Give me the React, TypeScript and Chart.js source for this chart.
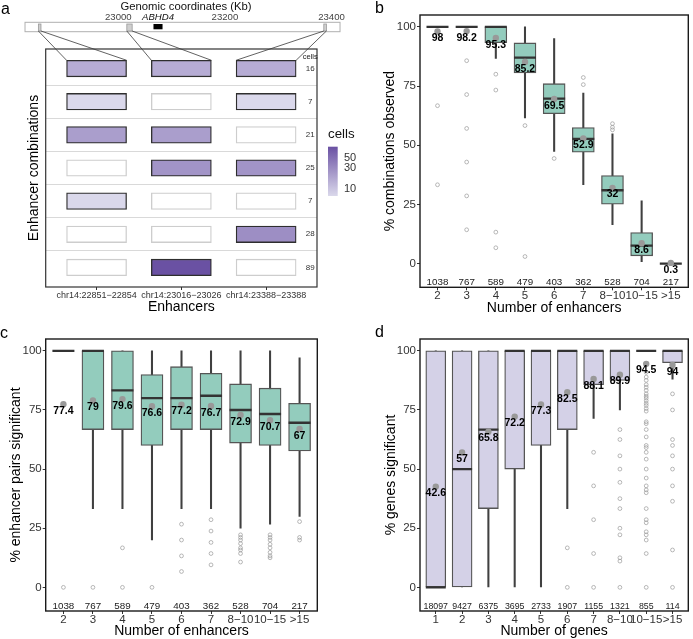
import React, { useEffect, useRef } from "react";
import { Chart, registerables } from "chart.js";

Chart.register(...registerables);

const FONT = "'Liberation Sans', Arial, Helvetica, sans-serif";
Chart.defaults.font.family = FONT;

// ---------------- Panel a data ----------------
const enhancerLabels = ["chr14:22851\u221222854", "chr14:23016\u221223026", "chr14:23388\u221223388"];
const enhancerStarts = [22851, 23016, 23388];
const enhancerEnds = [22854, 23026, 23388];
const geneName = "ABHD4";
const geneStart = 23066;
const geneEnd = 23083;
const genomicTicks = [23000, 23200, 23400];
const trackStart = 22825;
const trackEnd = 23416;
const genomicView = [22863.8, 23372.8];
const comboPresence = [
  [1, 1, 1],
  [1, 0, 1],
  [1, 1, 0],
  [0, 1, 1],
  [1, 0, 0],
  [0, 0, 1],
  [0, 1, 0],
];
const comboCells = [16, 7, 21, 25, 7, 28, 89];
const cellLegendTicks = [10, 30, 50];

// ---------------- Panel b data ----------------
const enhancerCats = ["2", "3", "4", "5", "6", "7", "8\u221210", "10\u221215", ">15"];
const bN = [1038, 767, 589, 479, 403, 362, 528, 704, 217];
const bMean = [98, 98.2, 95.3, 85.2, 69.5, 52.9, 32, 8.6, 0.3];
const bMedian = [100, 100, 100, 87, 69.7, 52.7, 31, 7.6, 0];
const bQ1 = [100, 100, 93.3, 80.5, 63.3, 47.1, 25.1, 3.3, 0];
const bQ3 = [100, 100, 100, 93.2, 76, 57.5, 37.2, 13.1, 0];
const bWhiskerLow = [100, 100, 86.7, 61.5, 47.4, 33.3, 16.4, 0.8, 0];
const bWhiskerHigh = [100, 100, 100, 100, 95, 72, 54.8, 26.5, 0];
const bOutliers = [
  [66.7, 33.3],
  [85.7, 71.4, 57.1, 42.9, 28.6, 14.3],
  [80, 73.3, 13.3, 6.7],
  [58.3, 3],
  [44.4],
  [78.6, 75.6],
  [59.1, 57.6, 56.5],
  [],
  [],
];

// ---------------- Panel c data ----------------
const cN = [1038, 767, 589, 479, 403, 362, 528, 704, 217];
const cMean = [77.4, 79, 79.6, 76.6, 77.2, 76.7, 72.9, 70.7, 67];
const cMedian = [100, 100, 83.3, 80, 80, 81, 75, 73.3, 69.6];
const cQ1 = [100, 66.7, 66.7, 60, 66.7, 66.7, 61, 60, 57.7];
const cQ3 = [100, 100, 100, 90, 93.3, 90.5, 86, 84.2, 77.8];
const cWhiskerLow = [100, 33.3, 33.3, 20, 33.3, 33.3, 25, 26.7, 30];
const cWhiskerHigh = [100, 100, 100, 100, 100, 100, 100, 100, 97];
const cOutliers = [
  [0],
  [0],
  [16.7, 0],
  [0],
  [26.7, 20, 13.3, 6.7],
  [28.6, 23.8, 19, 14.3, 9.5],
  [22.2, 21.1, 20, 18.5, 16.7, 15.8, 14.3, 10.7],
  [22.2, 21.1, 20, 18.2, 16.7, 14.8, 13.3, 12.5],
  [27.8, 21.1, 20],
];

// ---------------- Panel d data ----------------
const geneCats = ["1", "2", "3", "4", "5", "6", "7", "8\u221210", "10\u221215", ">15"];
const dN = [18097, 9427, 6375, 3695, 2733, 1907, 1155, 1321, 855, 114];
const dMean = [42.6, 57, 65.8, 72.2, 77.3, 82.5, 88.1, 89.9, 94.5, 94];
const dMedian = [0, 50, 66.7, 100, 100, 100, 100, 100, 100, 100];
const dQ1 = [0, 0, 33.3, 50, 60, 66.7, 85.7, 87.5, 100, 95];
const dQ3 = [100, 100, 100, 100, 100, 100, 100, 100, 100, 100];
const dWhiskerLow = [0, 0, 0, 0, 0, 33.3, 71.4, 75, 100, 88];
const dWhiskerHigh = [100, 100, 100, 100, 100, 100, 100, 100, 100, 100];
const dOutliers = [
  [],
  [],
  [],
  [],
  [],
  [16.7, 0],
  [57.1, 42.9, 28.6, 14.3, 0],
  [66.7, 62.5, 55.6, 50, 44.4, 37.5, 33.3, 25, 22.2, 12.5, 11.1, 0],
  [90.9, 88.9, 87.5, 85.7, 84.6, 83.3, 81.8, 80.8, 80, 78.9, 77.8, 76.9, 75.6, 74.5,
   70, 69.2, 66.7, 63.6, 60, 59.1, 57.1, 54.2, 50, 46.2, 42.9, 41.2, 40, 33.3, 28.6, 27.3,
   23.5, 22.2, 20, 14.3, 0],
  [81.8, 75, 62.5, 60, 55.6, 50, 42.9, 36.4, 15.8, 0],
];

// ---------------- helpers ----------------
const lowRGB = [218, 216, 235];
const highRGB = [106, 81, 163];
const minCells = Math.min(...comboCells);
const maxCells = Math.max(...comboCells);
function cellT(c: number) {
  return (Math.log(c) - Math.log(minCells)) / (Math.log(maxCells) - Math.log(minCells));
}
function cellColor(c: number) {
  const t = cellT(c);
  const m = lowRGB.map((l, i) => Math.round(l + (highRGB[i] - l) * t));
  return `rgb(${m[0]},${m[1]},${m[2]})`;
}

type Area = { left: number; right: number; top: number; bottom: number };

function drawText(ctx: CanvasRenderingContext2D, text: string, x: number, y: number, font: string, color: string, align: CanvasTextAlign = "center", baseline: CanvasTextBaseline = "middle") {
  ctx.save();
  ctx.font = font;
  ctx.fillStyle = color;
  ctx.textAlign = align;
  ctx.textBaseline = baseline;
  ctx.fillText(text, x, y);
  ctx.restore();
}

// ---------------- Panel a config ----------------
function panelAConfig(W: number, H: number): any {
  const area: Area = { left: 45.7, right: 317, top: 49, bottom: 287 };
  const datasets = comboPresence.map((row, r) => ({
    type: "bar",
    data: row.map((_, e) => ({ x: e, y: [r - 0.25, r + 0.25] })),
    backgroundColor: row.map((p) => (p ? cellColor(comboCells[r]) : "#ffffff")),
    borderColor: row.map((p) => (p ? "#2e2e2e" : "#cdcdcd")),
    borderWidth: 1.3,
    borderSkipped: false,
    barThickness: 60,
    grouped: false,
    xAxisID: "x",
    yAxisID: "y",
  }));

  const decor = {
    id: "panelADecor",
    afterDraw(chart: any) {
      const ctx = chart.ctx as CanvasRenderingContext2D;
      const ca = chart.chartArea;
      const xs = chart.scales.x;
      const ys = chart.scales.y;
      const g = chart.scales.g;
      ctx.save();
      // frame
      ctx.strokeStyle = "#333";
      ctx.lineWidth = 1.2;
      ctx.strokeRect(ca.left, ca.top, ca.right - ca.left, ca.bottom - ca.top);

      // genomic track
      const tTop = 22.3, tBot = 31.7;
      const x0 = g.getPixelForValue(trackStart);
      const x1 = g.getPixelForValue(trackEnd);
      ctx.fillStyle = "#fff";
      ctx.fillRect(x0, tTop, x1 - x0, tBot - tTop);
      ctx.strokeStyle = "#b0b0b0";
      ctx.lineWidth = 1;
      ctx.strokeRect(x0, tTop, x1 - x0, tBot - tTop);
      drawText(ctx, "Genomic coordinates (Kb)", 186, 6.5, `11.3px ${FONT}`, "#111");
      genomicTicks.forEach((t) => {
        drawText(ctx, String(t), g.getPixelForValue(t), 17, `9.6px ${FONT}`, "#444");
      });
      // gene
      const gx0 = g.getPixelForValue(geneStart);
      const gx1 = g.getPixelForValue(geneEnd);
      ctx.fillStyle = "#000";
      ctx.fillRect(gx0, 24, gx1 - gx0, 5.3);
      drawText(ctx, geneName, (gx0 + gx1) / 2, 17, `italic 9.6px ${FONT}`, "#111");

      // enhancers + connectors
      const tileTop = ys.getPixelForValue(-0.25);
      enhancerStarts.forEach((s, e) => {
        let ex0 = g.getPixelForValue(s);
        let ex1 = g.getPixelForValue(enhancerEnds[e]);
        if (ex1 - ex0 < 2.6) {
          const c = (ex0 + ex1) / 2;
          ex0 = c - 1.3;
          ex1 = c + 1.3;
        }
        ctx.fillStyle = "#cfcfcf";
        ctx.fillRect(ex0, 24, ex1 - ex0, 7);
        ctx.strokeStyle = "#999";
        ctx.lineWidth = 0.8;
        ctx.strokeRect(ex0, 24, ex1 - ex0, 7);
        const cx = xs.getPixelForValue(e);
        ctx.strokeStyle = "#3a3a3a";
        ctx.lineWidth = 0.8;
        ctx.beginPath();
        ctx.moveTo(ex0, 31);
        ctx.lineTo(cx - 30, tileTop);
        ctx.moveTo(ex1, 31);
        ctx.lineTo(cx + 30, tileTop);
        ctx.stroke();
      });

      // cell counts
      const cntX = xs.getPixelForValue(2.52);
      drawText(ctx, "cells", cntX, ys.getPixelForValue(-0.34), `7.5px ${FONT}`, "#222");
      comboCells.forEach((c, r) => {
        drawText(ctx, String(c), cntX, ys.getPixelForValue(r), `8px ${FONT}`, "#333");
      });

      // colour legend
      const lx = 328, lw = 9.7, lTop = 146.7, lBot = 196;
      drawText(ctx, "cells", lx, 134, `13.3px ${FONT}`, "#111", "left");
      const grad = ctx.createLinearGradient(0, lBot, 0, lTop);
      grad.addColorStop(0, cellColor(minCells));
      grad.addColorStop(1, cellColor(maxCells));
      ctx.fillStyle = grad;
      ctx.fillRect(lx, lTop, lw, lBot - lTop);
      cellLegendTicks.forEach((v) => {
        const y = lBot - cellT(v) * (lBot - lTop);
        drawText(ctx, String(v), lx + 16, y, `11px ${FONT}`, "#333", "left");
      });

      // panel letter
      drawText(ctx, "a", 1, 10, `16px ${FONT}`, "#000", "left");
      ctx.restore();
    },
  };

  return {
    type: "bar",
    data: { datasets },
    options: {
      responsive: false,
      animation: false,
      events: [],
      devicePixelRatio: 1,
      layout: { padding: { top: area.top, right: W - area.right, left: 0, bottom: 0 } },
      plugins: { legend: { display: false }, tooltip: { enabled: false } },
      scales: {
        x: {
          type: "linear",
          min: -0.6,
          max: 2.6,
          offset: false,
          bounds: "data",
          afterBuildTicks: (s: any) => {
            s.ticks = enhancerLabels.map((_, i) => ({ value: i }));
          },
          afterFit: (s: any) => {
            s.height = H - area.bottom;
          },
          ticks: {
            callback: (v: any) => enhancerLabels[Math.round(v)],
            font: { size: 9, lineHeight: 1 },
            color: "#333",
            padding: 1,
            autoSkip: false,
            maxRotation: 0,
          },
          grid: { display: true, drawOnChartArea: false, drawTicks: true, tickLength: 3, color: "#333", offset: false },
          border: { display: false },
          title: { display: true, text: "Enhancers", font: { size: 14 }, color: "#000", padding: { top: 0, bottom: 4.9 } },
        },
        y: {
          type: "linear",
          min: -0.59,
          max: 6.59,
          reverse: true,
          bounds: "data",
          afterBuildTicks: (s: any) => {
            s.ticks = [0.5, 1.5, 2.5, 3.5, 4.5, 5.5].map((v) => ({ value: v }));
          },
          afterFit: (s: any) => {
            s.width = area.left;
          },
          ticks: { display: false },
          grid: { color: "#d9d9d9", lineWidth: 1, drawTicks: false },
          border: { display: false },
          title: { display: true, text: "Enhancer combinations", font: { size: 14 }, color: "#000", padding: { top: 25.6, bottom: 0 } },
        },
        g: {
          type: "linear",
          axis: "x",
          position: "top",
          display: false,
          offset: false,
          bounds: "data",
          grace: 0,
          min: genomicView[0],
          max: genomicView[1],
          afterBuildTicks: (s: any) => {
            s.ticks = genomicTicks.map((v) => ({ value: v }));
          },
        },
      },
    },
    plugins: [decor],
  };
}

// ---------------- box plot config ----------------
type BoxSpec = {
  cats: string[];
  n: number[];
  mean: number[];
  median: number[];
  q1: number[];
  q3: number[];
  wLo: number[];
  wHi: number[];
  outliers: number[][];
  fill: string;
  boxWidth: number;
  nFont: number;
  xTitle: string;
  yTitle: string;
  letter: string;
  letterPos: [number, number];
  area: Area;
  W: number;
  H: number;
  yTitlePad: number;
  xTitlePad: number;
};

function boxConfig(sp: BoxSpec): any {
  const idx = sp.cats.map((_, i) => i);
  const outlierPts: { x: number; y: number }[] = [];
  sp.outliers.forEach((arr, i) => arr.forEach((v) => outlierPts.push({ x: i, y: v })));

  const decor = {
    id: "boxDecor",
    afterDatasetDraw(chart: any, args: any) {
      if (args.index !== 1) return;
      const ctx = chart.ctx as CanvasRenderingContext2D;
      const xs = chart.scales.x;
      const ys = chart.scales.y;
      ctx.save();
      ctx.strokeStyle = "#333";
      ctx.lineWidth = 2.4;
      ctx.beginPath();
      sp.median.forEach((m, i) => {
        const cx = xs.getPixelForValue(i);
        const y = ys.getPixelForValue(m);
        ctx.moveTo(cx - sp.boxWidth / 2, y);
        ctx.lineTo(cx + sp.boxWidth / 2, y);
      });
      ctx.stroke();
      ctx.restore();
    },
    afterDatasetsDraw(chart: any) {
      const ctx = chart.ctx as CanvasRenderingContext2D;
      const xs = chart.scales.x;
      const ys = chart.scales.y;
      sp.mean.forEach((m, i) => {
        drawText(ctx, String(m), xs.getPixelForValue(i), ys.getPixelForValue(m) + 1.5, `bold 10.5px ${FONT}`, "#000", "center", "top");
      });
      sp.n.forEach((c, i) => {
        drawText(ctx, String(c), xs.getPixelForValue(i), ys.getPixelForValue(-8), `${sp.nFont}px ${FONT}`, "#1a1a1a");
      });
    },
    afterDraw(chart: any) {
      const ctx = chart.ctx as CanvasRenderingContext2D;
      const ca = chart.chartArea;
      ctx.save();
      ctx.strokeStyle = "#1a1a1a";
      ctx.lineWidth = 1.4;
      ctx.strokeRect(ca.left, ca.top, ca.right - ca.left, ca.bottom - ca.top);
      ctx.restore();
      drawText(ctx, sp.letter, sp.letterPos[0], sp.letterPos[1], `16px ${FONT}`, "#000", "left");
    },
  };

  return {
    type: "bar",
    data: {
      datasets: [
        {
          type: "bar",
          order: 5,
          data: idx.filter((i) => sp.wHi[i] > sp.wLo[i]).map((i) => ({ x: i, y: [sp.wLo[i], sp.wHi[i]] })),
          backgroundColor: "#404040",
          borderWidth: 0,
          barThickness: 1.4,
          grouped: false,
        },
        {
          type: "bar",
          order: 4,
          data: idx.map((i) => ({ x: i, y: [sp.q1[i], sp.q3[i]] })),
          backgroundColor: sp.fill,
          borderColor: "#555",
          borderWidth: 1.3,
          borderSkipped: false,
          barThickness: sp.boxWidth,
          grouped: false,
        },
        {
          type: "scatter",
          order: 3,
          data: outlierPts,
          pointRadius: 1.9,
          pointBorderWidth: 0.7,
          pointBackgroundColor: "rgba(0,0,0,0)",
          pointBorderColor: "#9a9a9a",
        },
        {
          type: "scatter",
          order: 1,
          data: idx.map((i) => ({ x: i, y: sp.mean[i] })),
          pointRadius: 3.2,
          pointBorderWidth: 0,
          pointBackgroundColor: "#999999",
        },
      ],
    },
    options: {
      responsive: false,
      animation: false,
      events: [],
      devicePixelRatio: 1,
      layout: { padding: { top: sp.area.top, right: sp.W - sp.area.right, left: 0, bottom: 0 } },
      plugins: { legend: { display: false }, tooltip: { enabled: false } },
      scales: {
        x: {
          type: "linear",
          min: -0.6,
          max: sp.cats.length - 0.4,
          offset: false,
          bounds: "data",
          afterBuildTicks: (s: any) => {
            s.ticks = idx.map((i) => ({ value: i }));
          },
          afterFit: (s: any) => {
            s.height = sp.H - sp.area.bottom;
          },
          ticks: {
            callback: (v: any) => sp.cats[Math.round(v)],
            font: { size: 11.5, lineHeight: 1 },
            color: "#333",
            padding: 0,
            autoSkip: false,
            maxRotation: 0,
          },
          grid: { display: true, drawOnChartArea: false, drawTicks: true, tickLength: 3, color: "#333", offset: false },
          border: { display: false },
          title: { display: true, text: sp.xTitle, font: { size: 14 }, color: "#000", padding: { top: 0, bottom: sp.xTitlePad } },
        },
        y: {
          type: "linear",
          min: -10,
          max: 105,
          bounds: "data",
          afterBuildTicks: (s: any) => {
            s.ticks = [0, 25, 50, 75, 100].map((v) => ({ value: v }));
          },
          afterFit: (s: any) => {
            s.width = sp.area.left;
          },
          ticks: { font: { size: 11.5 }, color: "#333", padding: 1 },
          grid: { display: true, drawOnChartArea: false, drawTicks: true, tickLength: 3, color: "#333" },
          border: { display: false },
          title: { display: true, text: sp.yTitle, font: { size: 14 }, color: "#000", padding: { top: sp.yTitlePad, bottom: 0 } },
        },
      },
    },
    plugins: [decor],
  };
}

const TEAL = "#93ccbd";
const LAVENDER = "#d4d1e7";

export default function App() {
  const aRef = useRef<HTMLCanvasElement>(null);
  const bRef = useRef<HTMLCanvasElement>(null);
  const cRef = useRef<HTMLCanvasElement>(null);
  const dRef = useRef<HTMLCanvasElement>(null);

  useEffect(() => {
    const charts: Chart[] = [];
    charts.push(new Chart(aRef.current as any, panelAConfig(365, 320)));
    charts.push(
      new Chart(bRef.current as any, boxConfig({
        cats: enhancerCats, n: bN, mean: bMean, median: bMedian, q1: bQ1, q3: bQ3,
        wLo: bWhiskerLow, wHi: bWhiskerHigh, outliers: bOutliers, fill: TEAL, boxWidth: 22, nFont: 9.8,
        xTitle: "Number of enhancers", yTitle: "% combinations observed", letter: "b", letterPos: [10, 9],
        area: { left: 55, right: 325, top: 15, bottom: 287.3 }, W: 328, H: 320, yTitlePad: 16.6, xTitlePad: 3.3,
      }))
    );
    charts.push(
      new Chart(cRef.current as any, boxConfig({
        cats: enhancerCats, n: cN, mean: cMean, median: cMedian, q1: cQ1, q3: cQ3,
        wLo: cWhiskerLow, wHi: cWhiskerHigh, outliers: cOutliers, fill: TEAL, boxWidth: 22, nFont: 9.8,
        xTitle: "Number of enhancers", yTitle: "% enhancer pairs significant", letter: "c", letterPos: [0, 14],
        area: { left: 45.7, right: 317.3, top: 19, bottom: 291 }, W: 365, H: 319, yTitlePad: 7.3, xTitlePad: -1,
      }))
    );
    charts.push(
      new Chart(dRef.current as any, boxConfig({
        cats: geneCats, n: dN, mean: dMean, median: dMedian, q1: dQ1, q3: dQ3,
        wLo: dWhiskerLow, wHi: dWhiskerHigh, outliers: dOutliers, fill: LAVENDER, boxWidth: 20, nFont: 8.8,
        xTitle: "Number of genes", yTitle: "% genes significant", letter: "d", letterPos: [10, 13],
        area: { left: 55, right: 325, top: 19, bottom: 291 }, W: 328, H: 319, yTitlePad: 17.3, xTitlePad: -1,
      }))
    );
    return () => charts.forEach((c) => c.destroy());
  }, []);

  const cs = (l: number, t: number, w: number, h: number): React.CSSProperties => ({
    position: "absolute", left: l, top: t, width: w, height: h,
  });

  return (
    <div style={{ position: "absolute", left: 0, top: 0, width: 693, height: 639, background: "#fff", overflow: "hidden" }}>
      <canvas ref={aRef} width={365} height={320} style={cs(0, 0, 365, 320)} />
      <canvas ref={bRef} width={328} height={320} style={cs(365, 0, 328, 320)} />
      <canvas ref={cRef} width={365} height={319} style={cs(0, 320, 365, 319)} />
      <canvas ref={dRef} width={328} height={319} style={cs(365, 320, 328, 319)} />
    </div>
  );
}
